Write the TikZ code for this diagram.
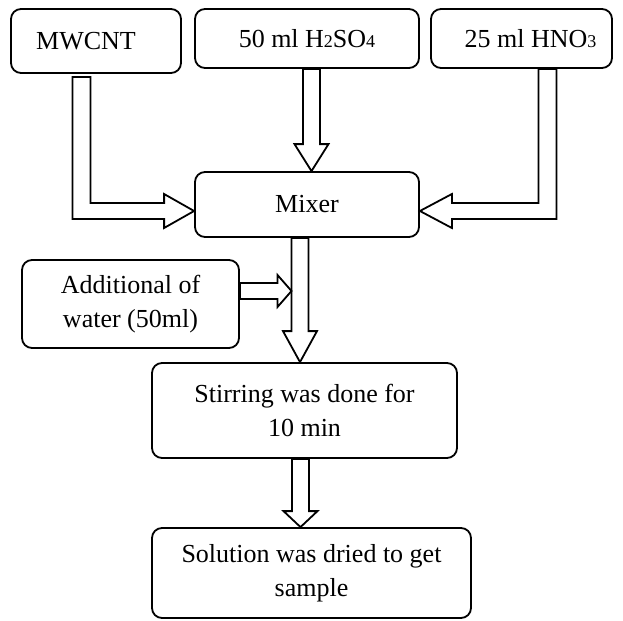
\documentclass[tikz,border=0pt]{standalone}
\usepackage{fontspec}
\setmainfont{Liberation Serif}
\usetikzlibrary{calc}

\tikzset{
  procbox/.style={draw, line width=0.9pt, rounded corners=5pt, align=center, inner sep=0pt, font=\fontsize{13}{17}\selectfont},
  blk/.style={draw, line width=0.9pt, fill=white, line join=miter}
}
% hollow block arrows: start, target, head length
\newcommand{\blkdown}[3]{%
  \draw[blk] ($(#1)+(-8.5,0)$) -- ($(#1|-#2)+(-8.5,-#3)$) -- ($(#1|-#2)+(-17,-#3)$) -- (#1|-#2)
    -- ($(#1|-#2)+(17,-#3)$) -- ($(#1|-#2)+(8.5,-#3)$) -- ($(#1)+(8.5,0)$) -- cycle;}
\newcommand{\blkright}[3]{%
  \draw[blk] ($(#1)+(0,-8)$) -- ($(#2|-#1)+(-#3,-8)$) -- ($(#2|-#1)+(-#3,-16)$) -- (#2|-#1)
    -- ($(#2|-#1)+(-#3,16)$) -- ($(#2|-#1)+(-#3,8)$) -- ($(#1)+(0,8)$) -- cycle;}
\newcommand{\sub}[1]{{\fontsize{9}{9}\selectfont #1}}

\begin{document}
\begin{tikzpicture}[x=0.5pt,y=-0.5pt]
  \useasboundingbox (0,0) rectangle (623,621);

  \node (mwcnt) [procbox, minimum width=85pt, minimum height=32pt] at (96,41) {MWCNT\hspace*{10pt}};
  \node (acid) [procbox, minimum width=112pt, minimum height=29.5pt] at (307,38.5) {50 ml H\sub{2}SO\sub{4}};
  \node (nitric) [procbox, minimum width=90.5pt, minimum height=29.5pt] at (521.5,38.5) {\hspace*{9pt}25 ml HNO\sub{3}};
  \node (mixer) [procbox, minimum width=112pt, minimum height=32.5pt] at (307,204.5) {Mixer};
  \node (water) [procbox, minimum width=108.5pt, minimum height=44pt] at (130.5,304) {Additional of\\water (50ml)};
  \node (stir) [procbox, minimum width=152.5pt, minimum height=47.5pt] at (304.5,410.5) {Stirring was done for\\10 min};
  \node (dry) [procbox, minimum width=159.5pt, minimum height=45pt] at (311.5,573) {Solution was dried to get\\sample};

  % inputs into the mixer
  \coordinate (m1) at ([xshift=-7.25pt,yshift=-1.5pt]mwcnt.south);
  \coordinate (m2) at ([yshift=-3.25pt]mixer.west);
  \draw[blk] ($(m1)+(-9,0)$) -- ($(m1|-m2)+(-9,8)$) -- ($(m2)+(-30,8)$) -- ($(m2)+(-30,17)$) -- (m2)
    -- ($(m2)+(-30,-17)$) -- ($(m2)+(-30,-8)$) -- ($(m1|-m2)+(9,-8)$) -- ($(m1)+(9,0)$) -- cycle;

  \coordinate (a1) at ([xshift=2.25pt]acid.south);
  \coordinate (a2) at ([xshift=2.25pt]mixer.north);
  \blkdown{a1}{a2}{27}

  \coordinate (n1) at ([xshift=13pt]nitric.south);
  \coordinate (n2) at ([yshift=-3.25pt]mixer.east);
  \draw[blk] ($(n1)+(9,0)$) -- ($(n1|-n2)+(9,8)$) -- ($(n2)+(32,8)$) -- ($(n2)+(32,17)$) -- (n2)
    -- ($(n2)+(32,-17)$) -- ($(n2)+(32,-8)$) -- ($(n1|-n2)+(-9,-8)$) -- ($(n1)+(-9,0)$) -- cycle;

  % down the line
  \coordinate (x1) at ([xshift=-3.5pt]mixer.south);
  \blkdown{x1}{stir.north}{31}
  \coordinate (w1) at ([yshift=6.5pt]water.east);
  \coordinate (w2) at ($(x1)+(-8.5,0)$);
  \blkright{w1}{w2}{14}

  \coordinate (s1) at ([xshift=-2pt]stir.south);
  \blkdown{s1}{dry.north}{16}
\end{tikzpicture}
\end{document}
